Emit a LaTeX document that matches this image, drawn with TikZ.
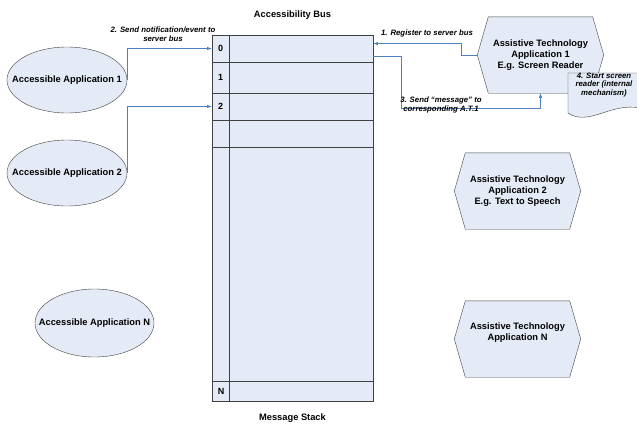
\documentclass[tikz,border=0pt]{standalone}
\usepackage{fontspec}
\setmainfont{Liberation Sans}
\usetikzlibrary{calc,shapes.geometric,backgrounds}

\definecolor{shapefill}{RGB}{228,235,246}
\definecolor{shapeline}{RGB}{64,64,64}
\definecolor{flowline}{RGB}{79,129,189}

\begin{document}
\begin{tikzpicture}[x=1pt,y=-1pt,
        app/.style={ellipse,draw=shapeline,fill=shapefill,inner sep=0pt,font=\fontsize{9.3}{11}\selectfont\bfseries},
        tech/.style={minimum width=104pt,minimum height=76pt,inner sep=0pt,align=center,font=\fontsize{9.3}{11}\selectfont\bfseries},
        tech outline/.style={draw=shapeline,fill=shapefill},
        stack/.style={draw=shapeline,fill=shapefill,line width=0.7pt,inner sep=0pt},
        stack line/.style={shapeline,line width=0.7pt},
        row label/.style={font=\fontsize{9}{11}\selectfont\bfseries},
        caption/.style={font=\fontsize{9.3}{11}\selectfont\bfseries},
        flow/.style={-latex,flowline,line width=0.6pt},
        step label/.style={align=center,inner sep=1pt,font=\fontsize{7.8}{8.8}\selectfont\bfseries\itshape}]
    \path[use as bounding box] (0,0) rectangle (637,423);

    % message stack
    \node[stack,minimum width=161pt,minimum height=366pt] (bus) at (292.5,218) {};
    \draw[stack line] (229,35) -- (229,401);
    \draw[stack line] (212,62) -- (373,62);
    \draw[stack line] (212,93) -- (373,93);
    \draw[stack line] (212,120) -- (373,120);
    \draw[stack line] (212,147) -- (373,147);
    \draw[stack line] (212,381) -- (373,381);
    \node[row label] (row0) at (220.5,48.5) {0};
    \node[row label] (row1) at (220.5,77.5) {1};
    \node[row label] (row2) at (220.5,106.5) {2};
    \node[row label] (rowN) at (221,391) {N};
    \node[caption] (bus title) at (292.5,15) {Accessibility Bus};
    \node[caption] (stack title) at (292.5,418) {Message Stack};

    % accessible applications
    \node[app,minimum width=120pt,minimum height=66pt] (aa1) at (67,80) {\makebox[0pt]{Accessible Application 1}};
    \node[app,minimum width=120pt,minimum height=66pt] (aa2) at (67,173) {\makebox[0pt]{Accessible Application 2}};
    \node[app,minimum width=119pt,minimum height=68pt] (aaN) at (94.5,323) {\makebox[0pt]{Accessible Application N}};

    % assistive technologies
    \node[tech] (at1) at (540.5,55) {Assistive Technology\\Application 1\\E.g. Screen Reader};
    \node[tech] (at2) at (517.5,191) {Assistive Technology\\Application 2\\E.g. Text to Speech};
    \node[tech] (atN) at (517.5,339) {Assistive Technology\\Application N\\\strut};
    \coordinate (at1 tip) at ([xshift=-11pt]at1.west);
    \coordinate (msg turn) at (401,108);

    \begin{scope}[on background layer]
        \draw[tech outline] (at1.north west) -- (at1.north east) -- ([xshift=11pt]at1.east) -- (at1.south east) -- (at1.south west) -- (at1 tip) -- cycle;
        \draw[tech outline] (at2.north west) -- (at2.north east) -- ([xshift=11pt]at2.east) -- (at2.south east) -- (at2.south west) -- ([xshift=-11pt]at2.west) -- cycle;
        \draw[tech outline] (atN.north west) -- (atN.north east) -- ([xshift=11pt]atN.east) -- (atN.south east) -- (atN.south west) -- ([xshift=-11pt]atN.west) -- cycle;
        % document of step 4
        \draw[tech outline] (568,73) -- (646,73) -- (646,110) .. controls (615,98) and (590,128) .. (568,113) -- cycle;
    \end{scope}
    \node[step label,font=\fontsize{7.8}{8.4}\selectfont\bfseries\itshape] (start reader) at (604,85) {4. Start screen\\reader (internal\\mechanism)};

    % connectors
    \draw[flow] (aa1.east) |- (bus.west |- row0);
    \draw[flow] (aa2.east) |- (bus.west |- row2);
    \draw[flow] (at1 tip) -- ++(-16,0) |- ([yshift=-9pt]bus.north east);
    \draw[flow] ([yshift=-22pt]bus.north east) -| (msg turn) -| (at1.south);

    \node[step label] (notify label) at (163,34.5) {2. Send notification/event to\\server bus};
    \node[step label] (register label) at (427,33) {1. Register to server bus};
    \node[step label] (message label) at (441,105) {3. Send “message” to\\corresponding A.T.1};
\end{tikzpicture}
\end{document}
